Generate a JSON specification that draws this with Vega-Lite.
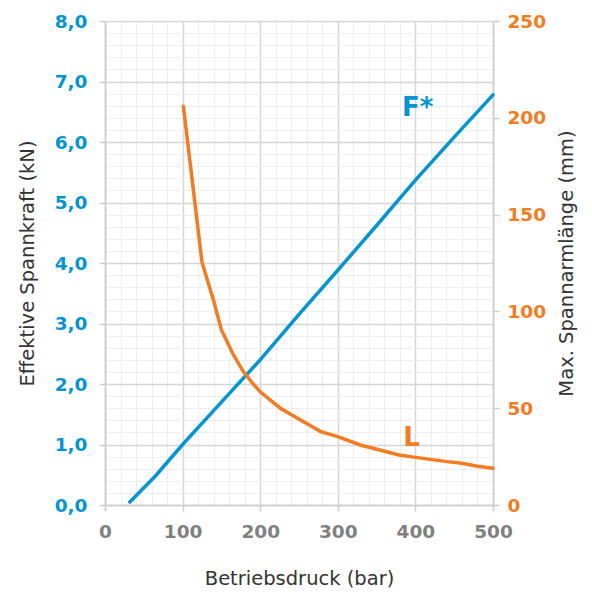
{
  "$schema": "https://vega.github.io/schema/vega-lite/v6.json",
  "width": 388,
  "height": 484,
  "autosize": "none",
  "padding": {"left": 105, "top": 21, "right": 100, "bottom": 87},
  "background": "white",
  "config": {"view": {"stroke": null}},
  "datasets": {
    "force": [
      {"p": 32, "kn": 0.05},
      {"p": 65, "kn": 0.48},
      {"p": 100, "kn": 1.0},
      {"p": 130, "kn": 1.42},
      {"p": 150, "kn": 1.7},
      {"p": 200, "kn": 2.4},
      {"p": 250, "kn": 3.15},
      {"p": 300, "kn": 3.88},
      {"p": 350, "kn": 4.62},
      {"p": 400, "kn": 5.37},
      {"p": 450, "kn": 6.08},
      {"p": 500, "kn": 6.78}
    ],
    "arm": [
      {"p": 101, "mm": 206},
      {"p": 125, "mm": 125.4},
      {"p": 140, "mm": 105.5},
      {"p": 150, "mm": 90.4},
      {"p": 165, "mm": 78},
      {"p": 177, "mm": 69.7},
      {"p": 190, "mm": 63},
      {"p": 200, "mm": 58.5},
      {"p": 226, "mm": 50},
      {"p": 252, "mm": 43.9},
      {"p": 278, "mm": 37.9},
      {"p": 300, "mm": 35.3},
      {"p": 329, "mm": 31},
      {"p": 379, "mm": 25.8},
      {"p": 400, "mm": 24.6},
      {"p": 441, "mm": 22.4},
      {"p": 460, "mm": 21.6},
      {"p": 480, "mm": 20},
      {"p": 500, "mm": 19}
    ],
    "flabel": [{"p": 403, "kn": 6.57, "t": "F*"}],
    "llabel": [{"p": 395, "mm": 34.8, "t": "L"}]
  },
  "encoding": {
    "x": {
      "field": "p",
      "type": "quantitative",
      "scale": {"domain": [0, 500], "nice": false, "zero": false},
      "axis": {
        "title": "Betriebsdruck (bar)",
        "values": [0,20,40,60,80,100,120,140,160,180,200,220,240,260,280,300,320,340,360,380,400,420,440,460,480,500],
        "labelExpr": "datum.value % 100 === 0 ? datum.label : ''",
        "labelFont": "DejaVu Sans",
        "labelFontWeight": "bold",
        "labelFontSize": 18.5,
        "labelColor": "#808080",
        "labelPadding": 11,
        "labelFlush": false,
        "labelOverlap": false,
        "tickSize": 6,
        "tickWidth": 1.5,
        "tickColor": {"condition": {"test": "datum.value % 100 === 0", "value": "#cccccc"}, "value": "transparent"},
        "domainColor": "#cccccc",
        "domainWidth": 1.5,
        "grid": true,
        "gridColor": {"condition": {"test": "datum.value % 100 === 0", "value": "#d6d6d6"}, "value": "#eeeeee"},
        "gridWidth": {"condition": {"test": "datum.value % 100 === 0", "value": 1.5}, "value": 1},
        "titleFont": "DejaVu Sans",
        "titleFontWeight": "normal",
        "titleFontSize": 19.5,
        "titleColor": "#333333",
        "titlePadding": 29
      }
    }
  },
  "layer": [
    {
      "encoding": {
        "y": {
          "field": "kn",
          "type": "quantitative",
          "scale": {"domain": [0, 8], "nice": false},
          "axis": {
            "orient": "left",
            "title": "Effektive Spannkraft (kN)",
            "values": [0,0.2,0.4,0.6,0.8,1,1.2,1.4,1.6,1.8,2,2.2,2.4,2.6,2.8,3,3.2,3.4,3.6,3.8,4,4.2,4.4,4.6,4.8,5,5.2,5.4,5.6,5.8,6,6.2,6.4,6.6,6.8,7,7.2,7.4,7.6,7.8,8],
            "labelExpr": "abs(datum.value - round(datum.value)) < 0.001 ? replace(format(datum.value, '.1f'), '.', ',') : ''",
            "labelFont": "DejaVu Sans",
            "labelFontWeight": "bold",
            "labelFontSize": 18.5,
            "labelColor": "#0096d6",
            "labelPadding": 12,
            "labelFlush": false,
            "labelOverlap": false,
            "tickSize": 6,
            "tickWidth": 1.5,
            "tickColor": {"condition": {"test": "abs(datum.value - round(datum.value)) < 0.001", "value": "#cccccc"}, "value": "transparent"},
            "domainColor": "#cccccc",
            "domainWidth": 1.5,
            "grid": true,
            "gridColor": {"condition": {"test": "abs(datum.value - round(datum.value)) < 0.001", "value": "#d6d6d6"}, "value": "#eeeeee"},
            "gridWidth": {"condition": {"test": "abs(datum.value - round(datum.value)) < 0.001", "value": 1.5}, "value": 1},
            "titleFont": "DejaVu Sans",
            "titleFontWeight": "normal",
            "titleFontSize": 19.5,
            "titleColor": "#333333",
            "titlePadding": 17
          }
        }
      },
      "layer": [
        {
          "data": {"name": "force"},
          "mark": {"type": "line", "color": "#0096d6", "strokeWidth": 3.5, "strokeCap": "round"}
        },
        {
          "data": {"name": "flabel"},
          "mark": {"type": "text", "color": "#0096d6", "font": "DejaVu Sans", "fontWeight": "bold", "fontSize": 26, "align": "center", "baseline": "middle"},
          "encoding": {"text": {"field": "t"}}
        }
      ]
    },
    {
      "encoding": {
        "y": {
          "field": "mm",
          "type": "quantitative",
          "scale": {"domain": [0, 250], "nice": false},
          "axis": {
            "orient": "right",
            "title": "Max. Spannarmlänge (mm)",
            "titleAngle": 270,
            "values": [0, 50, 100, 150, 200, 250],
            "labelFont": "DejaVu Sans",
            "labelFontWeight": "bold",
            "labelFontSize": 18.5,
            "labelColor": "#f47b20",
            "labelPadding": 8,
            "labelFlush": false,
            "labelOverlap": false,
            "tickSize": 6,
            "tickWidth": 1.5,
            "tickColor": "#cccccc",
            "domainColor": "#cccccc",
            "domainWidth": 1.5,
            "grid": false,
            "titleFont": "DejaVu Sans",
            "titleFontWeight": "normal",
            "titleFontSize": 19.5,
            "titleColor": "#333333",
            "titlePadding": 31
          }
        }
      },
      "layer": [
        {
          "data": {"name": "arm"},
          "mark": {"type": "line", "color": "#f47b20", "strokeWidth": 3.5, "strokeCap": "round"}
        },
        {
          "data": {"name": "llabel"},
          "mark": {"type": "text", "color": "#f47b20", "font": "DejaVu Sans", "fontWeight": "bold", "fontSize": 26, "align": "center", "baseline": "middle"},
          "encoding": {"text": {"field": "t"}}
        }
      ]
    }
  ],
  "resolve": {"scale": {"y": "independent"}}
}
